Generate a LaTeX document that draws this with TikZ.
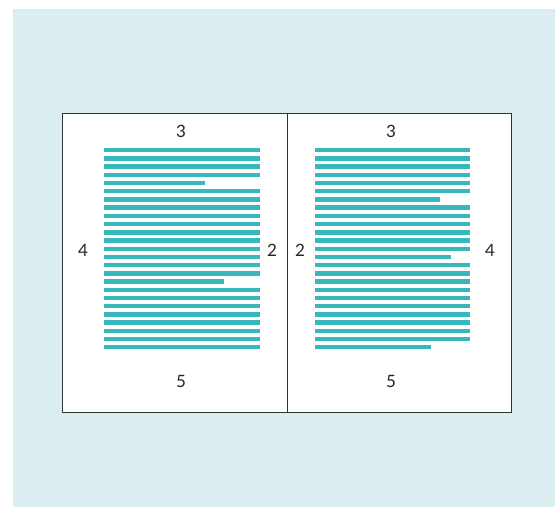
\documentclass[tikz,border=0pt]{standalone}
\usepackage{fontspec}
\setmainfont{Lato}
\definecolor{bgblue}{HTML}{DAEDF0}
\definecolor{teal}{HTML}{38B8BC}
\definecolor{frame}{HTML}{333333}
\begin{document}
\begin{tikzpicture}[x=1pt,y=-1pt,
  lbl/.style={font=\fontsize{17}{17}\selectfont, text=black!85, inner sep=0pt},
  txtline/.style={fill=teal, draw=none},
  pageframe/.style={draw=frame, line width=1pt, fill=white}]
\useasboundingbox (0,0) rectangle (555,507);
\fill[bgblue] (13,9) rectangle (555,507);
\draw[pageframe] (62.5,113.5) rectangle (511,412);
\draw[frame, line width=1pt] (287,113.5) -- (287,412);
% left page lines
\foreach \i in {0,...,24}{
  \pgfmathsetmacro{\yy}{148+\i*8.21}
  \pgfmathsetmacro{\xe}{\i==4 ? 205 : (\i==16 ? 223.5 : 259.5)}
  \fill[txtline] (104,\yy) rectangle (\xe,\yy+4.4);
}
% right page lines
\foreach \i in {0,...,24}{
  \pgfmathsetmacro{\yy}{148+\i*8.21}
  \pgfmathsetmacro{\xe}{\i==6 ? 440 : (\i==13 ? 450.5 : (\i==24 ? 431 : 470))}
  \fill[txtline] (314.5,\yy) rectangle (\xe,\yy+4.4);
}
\node[lbl] (lt) at (181,131) {3};
\node[lbl] (ll) at (83,250) {4};
\node[lbl] (lr) at (272,250) {2};
\node[lbl] (lb) at (181,381) {5};
\node[lbl] (rt) at (391,131) {3};
\node[lbl] (rl) at (300,250) {2};
\node[lbl] (rr) at (490,250) {4};
\node[lbl] (rb) at (391,381) {5};
\end{tikzpicture}
\end{document}
